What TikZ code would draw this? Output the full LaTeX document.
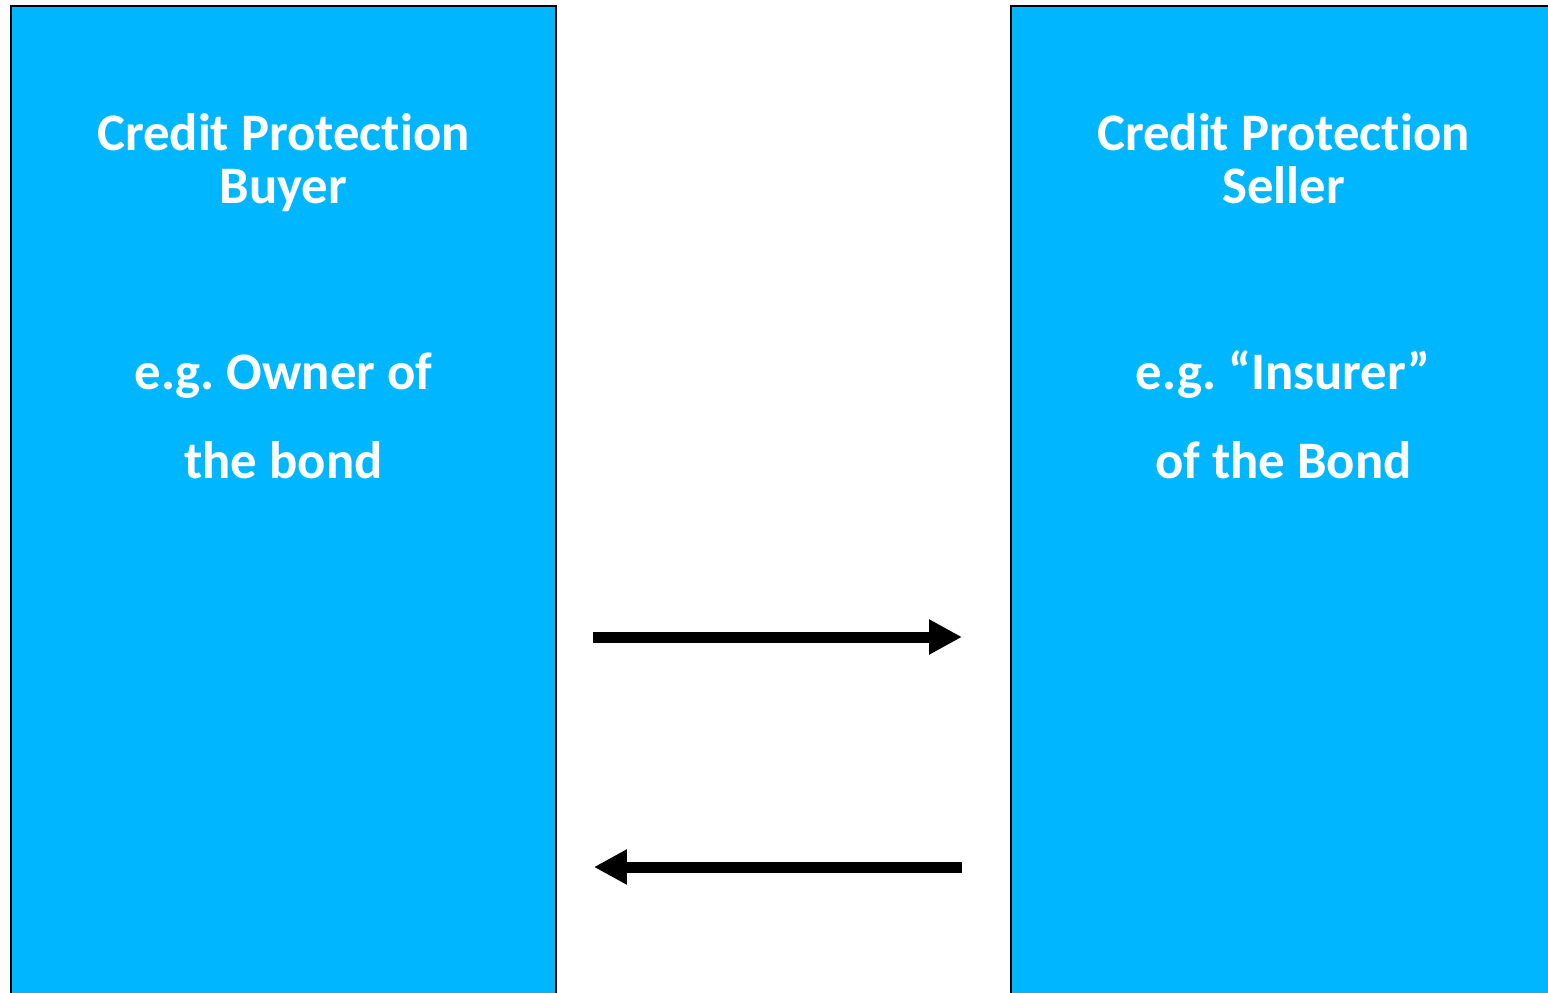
\documentclass[tikz,border=0pt]{standalone}
\usepackage{fontspec}
\setmainfont{Carlito}[RawFeature=-liga]
\usetikzlibrary{arrows.meta, positioning, calc}
\definecolor{cdsblue}{RGB}{0, 183, 255}
\tikzset{
  party/.style={draw=black, line width=0.04cm, fill=cdsblue, minimum width=10.9cm, minimum height=20.1cm, inner sep=0pt},
  partytext/.style={text=white, font=\frenchspacing\bfseries\fontsize{30}{30.6}\selectfont, align=center, anchor=base},
  flow/.style={line width=0.22cm, -{Triangle[length=0.66cm, width=0.66cm]}},
}

\begin{document}
\begin{tikzpicture}[x=0.02cm, y=-0.02cm]
  \useasboundingbox (0,0) rectangle (1548,993);
  \clip (0,0) rectangle (1548,993);

  % the two parties
  \node[party, anchor=north west] (buyer) at (10,5) {};
  \node[party, anchor=north west] (seller) at (1010,5) {};

  \node[partytext] (buyertitle) at (buyer.north |- 0,204) {Credit Protection\\Buyer};
  \node[partytext] (buyersub) at (buyer.north |- 0,478) {e.g. Owner of\\[20pt]the bond};
  \node[partytext] (sellertitle) at (seller.north |- 0,204) {Credit Protection\\Seller};
  \node[partytext] (sellersub) at (seller.north |- 0,478) {e.g. “Insurer”\\[20pt]of the Bond};

  % flows between them
  \draw[flow, shorten <=0.72cm, shorten >=0.96cm] (buyer.east |- 0,637) -- (seller.west |- 0,637);
  \draw[flow, shorten <=0.96cm, shorten >=0.74cm] (seller.west |- 0,867) -- (buyer.east |- 0,867);
\end{tikzpicture}
\end{document}
